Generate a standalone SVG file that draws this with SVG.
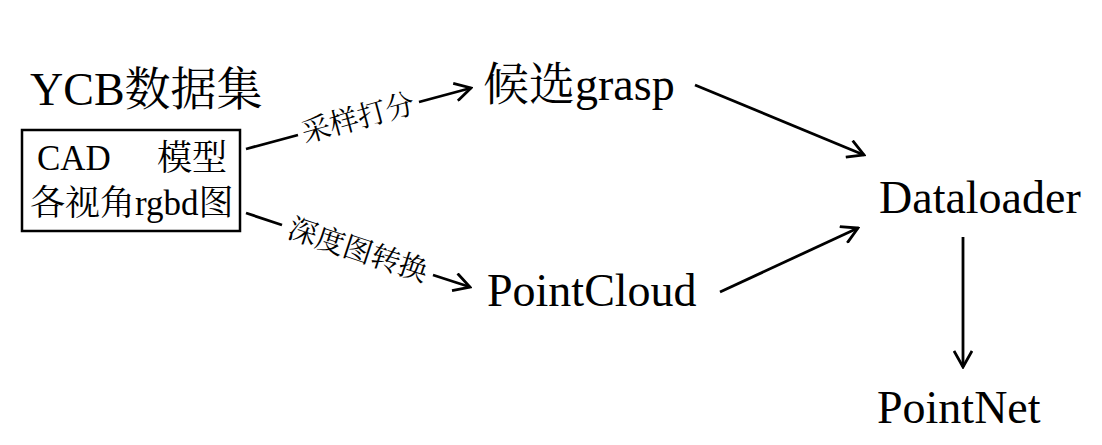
<svg xmlns="http://www.w3.org/2000/svg" width="1102" height="445" viewBox="0 0 1102 445">
<style>
text { font-family: "Liberation Serif", "Noto Serif CJK SC", "Noto Sans CJK SC", serif; fill: #000; }
.big { font-size: 46px; }
.mid { font-size: 35px; }
.lbl { font-size: 29px; }
.edge { stroke: #000; stroke-width: 2.8; fill: none; }
</style>
<defs>
<marker id="arr" viewBox="0 0 20 20" refX="18" refY="10" markerWidth="20" markerHeight="20" markerUnits="userSpaceOnUse" orient="auto">
<path d="M2,1 L18,10 L2,19" fill="none" stroke="#000" stroke-width="2.8"/>
</marker>
</defs>
<rect width="1102" height="445" fill="#fff"/>
<g id="ycb">
<text class="big" x="30" y="105">YCB数据集</text>
<rect x="22" y="130" width="218" height="101" fill="none" stroke="#000" stroke-width="2.5"/>
<text class="mid" x="37" y="170">CAD</text>
<text class="mid" x="157" y="170">模型</text>
<text class="mid" x="30" y="215">各视角rgbd图</text>
</g>
<g id="grasp"><text class="big" x="483" y="100">候选grasp</text></g>
<g id="pointcloud"><text class="big" x="487" y="306">PointCloud</text></g>
<g id="dataloader"><text class="big" x="879" y="213">Dataloader</text></g>
<g id="pointnet"><text class="big" x="877" y="423">PointNet</text></g>
<g id="connectors">
<path class="edge" d="M246,149 L298,135"/>
<path class="edge" d="M419,102 L471,88" marker-end="url(#arr)"/>
<text class="lbl" x="358" y="118" text-anchor="middle" dominant-baseline="central" transform="rotate(-15.2 358 118)">采样打分</text>
<path class="edge" d="M246,213 L282,225"/>
<path class="edge" d="M433,275 L470,287" marker-end="url(#arr)"/>
<text class="lbl" x="358" y="250" text-anchor="middle" dominant-baseline="central" transform="rotate(18.2 358 250)">深度图转换</text>
<path class="edge" d="M695,85 L864,155" marker-end="url(#arr)"/>
<path class="edge" d="M720,292 L858,228" marker-end="url(#arr)"/>
<path class="edge" d="M963,237 L963,367" marker-end="url(#arr)"/>
</g>
</svg>
